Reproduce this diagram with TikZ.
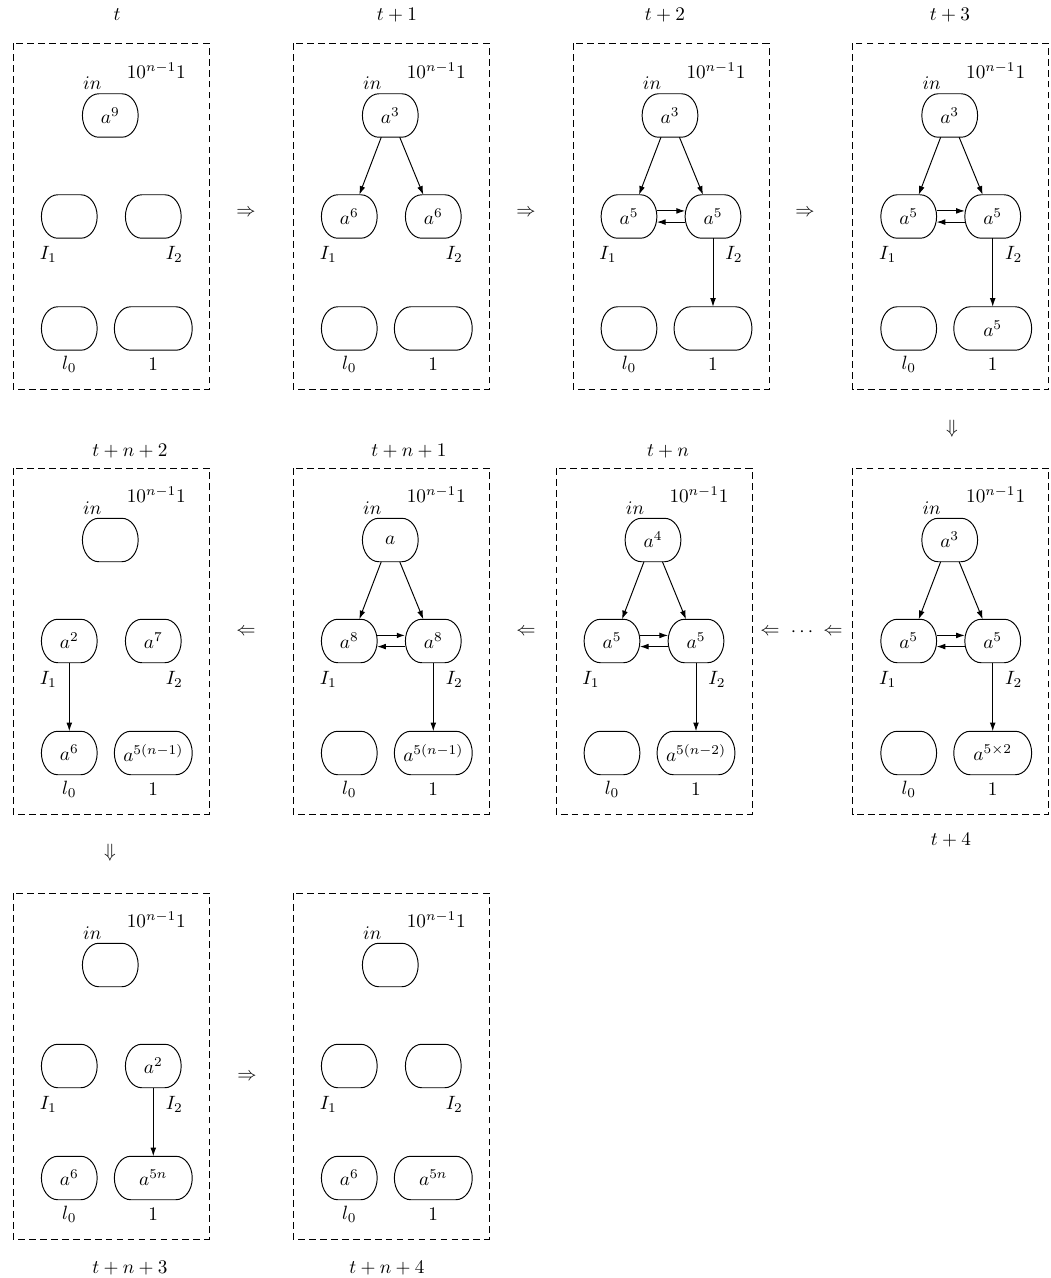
\documentclass[tikz,border=0pt]{standalone}
\usetikzlibrary{arrows.meta}
% a state node with elliptic ends
\newcommand\rnode[5]{%
  \node[st,minimum width=#4] (#1) at (#2,#3) {#5};
  \draw[line width=0.5pt] ([xshift=8.5pt]#1.north west) -- ([xshift=-8.5pt]#1.north east)
    arc[start angle=90,delta angle=-180,x radius=8.5pt,y radius=11.3pt]
    -- ([xshift=8.5pt]#1.south west)
    arc[start angle=270,delta angle=-180,x radius=8.5pt,y radius=11.3pt] -- cycle;
}
\newcommand\mypanel[8]{%
  \draw[boxst] (#2,#3) rectangle ++(196,346);
  \node[lbl] (#1ten) at (#2+143,#3+27) {$10^{n-1}1$};
  \node[lbl] (#1tin) at (#2+79,#3+40) {$in$};
  \rnode{#1in}{#2+97}{#3+72}{29pt}{#4}
  \rnode{#1a}{#2+56}{#3+173}{29pt}{#5}
  \rnode{#1b}{#2+140}{#3+173}{29pt}{#6}
  \node[lbl] (#1ta) at (#2+35,#3+211) {$I_1$};
  \node[lbl] (#1tb) at (#2+161,#3+211) {$I_2$};
  \rnode{#1l}{#2+56}{#3+285}{29pt}{#7}
  \rnode{#1o}{#2+140}{#3+285}{40.5pt}{#8}
  \node[lbl] (#1tl) at (#2+56,#3+321) {$l_0$};
  \node[lbl] (#1to) at (#2+140,#3+321) {$1$};
}
\newcommand\intoI[1]{%
  \draw[arr] ([xshift=-4.7pt]#1in.south) -- ([xshift=5.2pt]#1a.north);
  \draw[arr] ([xshift=4.9pt]#1in.south) -- ([xshift=-5.2pt]#1b.north);
}
\newcommand\fullflow[2]{%
  \intoI{#1}
  \draw[arr,line width=#2] ([yshift=2.9pt]#1a.east) -- ([yshift=2.9pt]#1b.west);
  \draw[arr] ([yshift=-2.9pt]#1b.west) -- ([yshift=-2.9pt]#1a.east);
  \draw[arr] (#1b.south) -- (#1o.north);
}
\begin{document}
\begin{tikzpicture}[x=0.52pt,y=-0.52pt,
  boxst/.style={draw,dash pattern=on 3.5pt off 2.2pt,line width=0.5pt},
  st/.style={draw=none,minimum height=22.6pt,inner sep=1pt,outer sep=0pt},
  lbl/.style={inner sep=0pt},
  arr/.style={-{Latex[length=4.5pt,width=3pt]},line width=0.5pt}]
\useasboundingbox (0,0) rectangle (1051,1278);

% row 1
\mypanel{A}{13.3}{43.5}{$a^9$}{}{}{}{}
\mypanel{B}{293.3}{43.5}{$a^3$}{$a^6$}{$a^6$}{}{}
\intoI{B}
\mypanel{C}{573}{43.5}{$a^3$}{$a^5$}{$a^5$}{}{}
\fullflow{C}{0.5pt}
\mypanel{D}{852.7}{43.5}{$a^3$}{$a^5$}{$a^5$}{}{$a^5$}
\fullflow{D}{0.5pt}

% row 2
\mypanel{E}{852.7}{468}{$a^3$}{$a^5$}{$a^5$}{}{$a^{5\times 2}$}
\fullflow{E}{0.5pt}
\mypanel{F}{556}{468}{$a^4$}{$a^5$}{$a^5$}{}{$a^{5(n-2)}$}
\fullflow{F}{0.5pt}
\mypanel{G}{293.3}{468}{$a$}{$a^8$}{$a^8$}{}{$a^{5(n-1)}$}
\fullflow{G}{0.9pt}
\mypanel{H}{13.3}{468}{}{$a^2$}{$a^7$}{$a^6$}{$a^{5(n-1)}$}
\draw[arr] (Ha.south) -- (Hl.north);

% row 3
\mypanel{I}{13.3}{893}{}{}{$a^2$}{$a^6$}{$a^{5n}$}
\draw[arr] (Ib.south) -- (Io.north);
\mypanel{J}{293.3}{893}{}{}{}{$a^6$}{$a^{5n}$}

% titles
\node[lbl] (tA) at (117,15) {$t$};
\node[lbl] (tB) at (397,15) {$t+1$};
\node[lbl] (tC) at (665,15) {$t+2$};
\node[lbl] (tD) at (950,15) {$t+3$};
\node[lbl] (tH) at (130,451) {$t+n+2$};
\node[lbl] (tG) at (409,451) {$t+n+1$};
\node[lbl] (tF) at (668,451) {$t+n$};
\node[lbl] (tE) at (951,840) {$t+4$};
\node[lbl] (tI) at (130,1268) {$t+n+3$};
\node[lbl] (tJ) at (387,1268) {$t+n+4$};

% transitions
\node[lbl] (s1) at (246,213) {$\Rightarrow$};
\node[lbl] (s2) at (526,213) {$\Rightarrow$};
\node[lbl] (s3) at (805,213) {$\Rightarrow$};
\node[lbl] (s4) at (952,429) {$\Downarrow$};
\node[lbl] (s5) at (833,632) {$\Leftarrow$};
\node[lbl] (s6) at (802,632) {$\cdots$};
\node[lbl] (s7) at (770,632) {$\Leftarrow$};
\node[lbl] (s8) at (526,632) {$\Leftarrow$};
\node[lbl] (s9) at (246,632) {$\Leftarrow$};
\node[lbl] (s10) at (110,853) {$\Downarrow$};
\node[lbl] (s11) at (247,1077) {$\Rightarrow$};
\end{tikzpicture}
\end{document}
